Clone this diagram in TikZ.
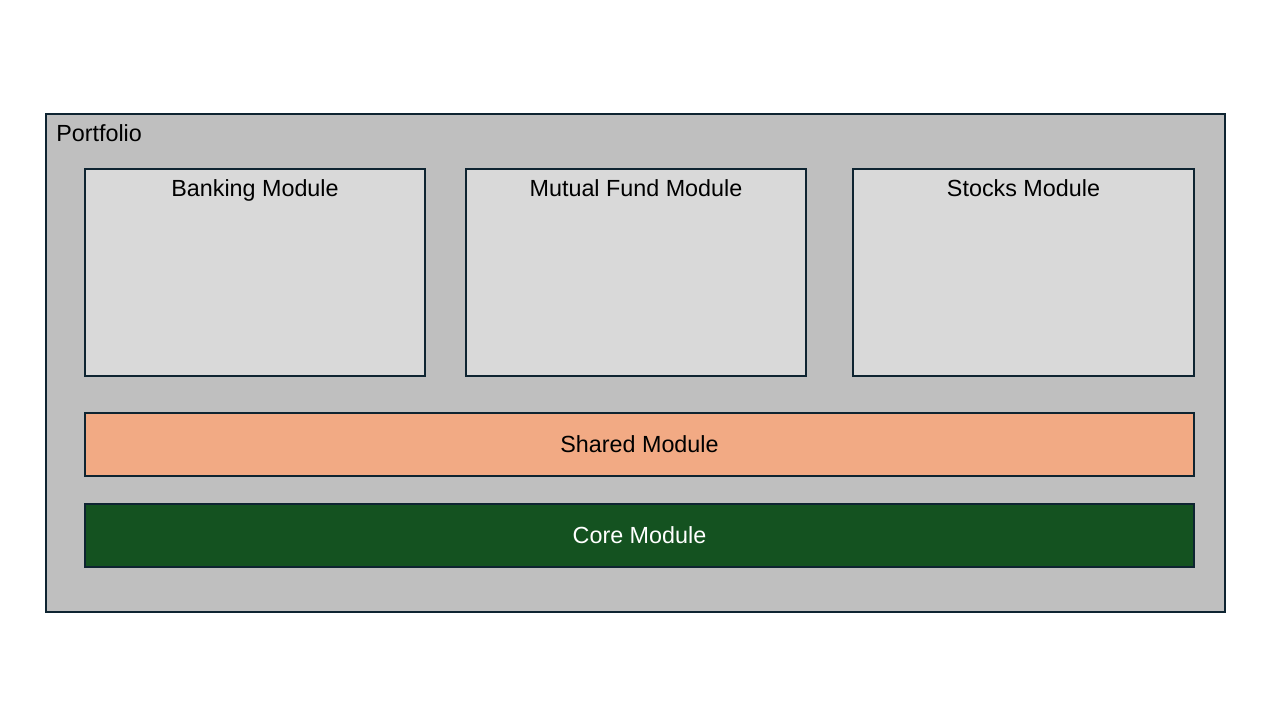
\documentclass[tikz,border=0pt]{standalone}
\usepackage{fontspec}
\setmainfont{Liberation Sans}
\usepackage{tikz}
\usetikzlibrary{calc}

\definecolor{frameblue}{HTML}{0E2431}
\definecolor{outergray}{HTML}{BFBFBF}
\definecolor{boxgray}{HTML}{D9D9D9}
\definecolor{sharedorange}{HTML}{F2AA84}
\definecolor{coregreen}{HTML}{145220}

\begin{document}
\begin{tikzpicture}[x=0.75pt,y=-0.75pt,
  modbox/.style={draw=frameblue,line width=1.2pt,fill=boxgray,rectangle,inner sep=0pt},
  modtitle/.style={font=\fontsize{17.5}{20}\selectfont,text=black}]
\useasboundingbox[fill=white] (0,0) rectangle (1280,720);
% outer portfolio frame
\node[modbox,fill=outergray,minimum width=884.25pt,minimum height=373.5pt] (portfolio) at (635.5,363) {};
\node[modtitle,anchor=base west,inner sep=0pt] (portfoliolabel) at (56,142) {Portfolio};
% feature modules
\node[modbox,minimum width=255pt,minimum height=155.25pt] (banking) at (255,272.5) {};
\node[modbox,minimum width=255pt,minimum height=155.25pt] (mutual) at (636,272.5) {};
\node[modbox,minimum width=255.75pt,minimum height=155.25pt] (stocks) at (1023.5,272.5) {};
\node[modtitle,anchor=base] (bankinglabel) at (255,197) {Banking Module};
\node[modtitle,anchor=base] (mutuallabel) at (636,197) {Mutual Fund Module};
\node[modtitle,anchor=base] (stockslabel) at (1023.5,197) {Stocks Module};
% shared and core layers
\node[modbox,fill=sharedorange,minimum width=831.75pt,minimum height=47.25pt,modtitle] (shared) at (639.5,444.5) {Shared Module};
\node[modbox,fill=coregreen,minimum width=831.75pt,minimum height=47.25pt,modtitle,text=white] (core) at (639.5,535.5) {Core Module};
\end{tikzpicture}
\end{document}
